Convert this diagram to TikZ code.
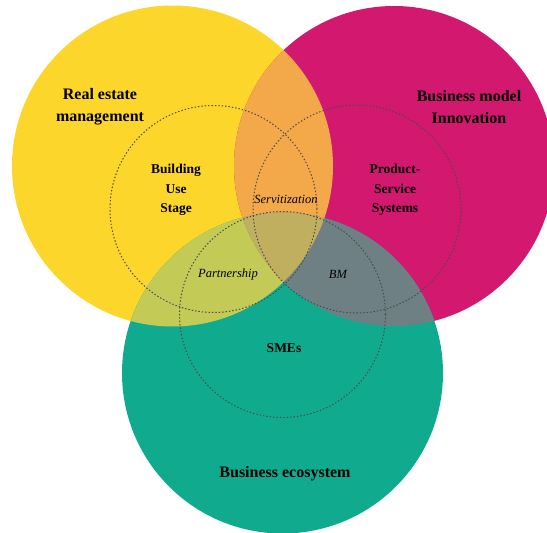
\documentclass[tikz,border=0pt]{standalone}
\usepackage{fontspec}
\setmainfont{Liberation Serif}
\definecolor{cyel}{HTML}{FDD62B}
\definecolor{cmag}{HTML}{D3186F}
\definecolor{cteal}{HTML}{10AB8F}
\definecolor{corg}{HTML}{F3A94A}
\definecolor{cyg}{HTML}{C3CA55}
\definecolor{cgb}{HTML}{6E8084}
\definecolor{ccen}{HTML}{C1AF60}
\definecolor{cdot}{HTML}{4A4A4A}
\tikzset{
  dotcircle/.style={draw=cdot, line width=1pt, dash pattern=on 1.4pt off 2pt},
  title/.style={font=\bfseries\fontsize{16}{22}\selectfont, align=center, inner sep=0pt, text=black},
  sublabel/.style={font=\bfseries\fontsize{13.5}{19.5}\selectfont, align=center, inner sep=0pt, text=black},
  itlabel/.style={font=\itshape\fontsize{12.5}{15}\selectfont, inner sep=0pt, text=black},
}
\begin{document}
\begin{tikzpicture}[x=1pt,y=-1pt]
\useasboundingbox (0,0) rectangle (547,533);
\clip (0,0) rectangle (547,533);
\def\Ycirc{(172.5,166) circle[radius=160.5pt]}
\def\Mcirc{(394,166) circle[radius=160pt]}
\def\Tcirc{(282.5,373) circle[radius=160.5pt]}
\fill[cyel] \Ycirc;
\fill[cmag] \Mcirc;
\fill[cteal] \Tcirc;
\begin{scope}\clip \Ycirc; \fill[corg] \Mcirc; \end{scope}
\begin{scope}\clip \Ycirc; \fill[cyg] \Tcirc; \end{scope}
\begin{scope}\clip \Mcirc; \fill[cgb] \Tcirc; \end{scope}
\begin{scope}\clip \Ycirc; \clip \Mcirc; \fill[ccen] \Tcirc; \end{scope}
\draw[dotcircle] (213.5,209) circle[radius=103.5pt];
\draw[dotcircle] (357,209) circle[radius=104pt];
\draw[dotcircle] (282.5,314.5) circle[radius=103pt];
\node[title] (ree) at (100,107) {Real estate\\management};
\node[title] (bmi) at (469,107) {Business model\\Innovation};
\node[title] (bes) at (285,474) {Business ecosystem};
\node[sublabel] (bus) at (176,190) {Building\\Use\\Stage};
\node[sublabel] (pss) at (395,190) {Product-\\Service\\Systems};
\node[sublabel] (sme) at (284,348) {SMEs};
\node[itlabel] (ser) at (286,199) {Servitization};
\node[itlabel] (par) at (228,274) {Partnership};
\node[itlabel] (bm) at (338,274) {BM};
\end{tikzpicture}
\end{document}
